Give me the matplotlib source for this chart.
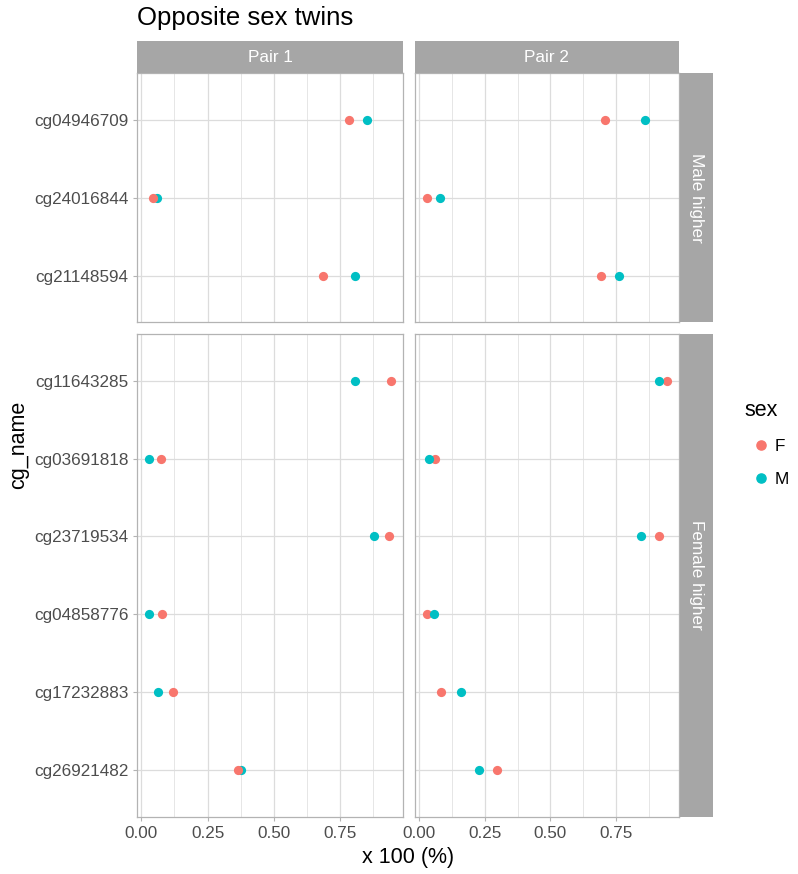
import matplotlib
matplotlib.use("Agg")
import matplotlib.pyplot as plt
from matplotlib.lines import Line2D

plt.rcParams["font.family"] = ["Liberation Sans", "DejaVu Sans"]

# Data
male_cgs = ["cg04946709", "cg24016844", "cg21148594"]
female_cgs = ["cg11643285", "cg03691818", "cg23719534",
              "cg04858776", "cg17232883", "cg26921482"]
row_labels = ["Male higher", "Female higher"]
col_labels = ["Pair 1", "Pair 2"]

pair1_F_male = [0.785, 0.044, 0.687]
pair1_M_male = [0.855, 0.059, 0.808]
pair2_F_male = [0.708, 0.033, 0.692]
pair2_M_male = [0.859, 0.082, 0.761]

pair1_F_female = [0.943, 0.074, 0.936, 0.079, 0.119, 0.365]
pair1_M_female = [0.808, 0.030, 0.881, 0.030, 0.062, 0.375]
pair2_F_female = [0.943, 0.061, 0.913, 0.033, 0.086, 0.297]
pair2_M_female = [0.913, 0.040, 0.843, 0.059, 0.162, 0.228]

x_ticks = [0.0, 0.25, 0.5, 0.75]
x_tick_labels = ["0.00", "0.25", "0.50", "0.75"]

COL_F = "#F8766D"
COL_M = "#00BFC4"
BORDER = "#B3B3B3"
GRID = "#DCDCDC"
STRIP = "#A6A6A6"
TICK_TXT = "#4D4D4D"

W, H = 798, 874
fig = plt.figure(figsize=(W / 100, H / 100), dpi=100)


def px_axes(x0, y0, x1, y1):
    # pixel box (top-left origin) -> figure axes
    return fig.add_axes([x0 / W, 1 - y1 / H, (x1 - x0) / W, (y1 - y0) / H])


col_x = [(137.3, 402.7), (414.5, 679.3)]
row_y = [(73, 322.3), (334, 816.7)]

rows = [
    (male_cgs, [(pair1_F_male, pair1_M_male), (pair2_F_male, pair2_M_male)]),
    (female_cgs, [(pair1_F_female, pair1_M_female), (pair2_F_female, pair2_M_female)]),
]

all_vals = []
for cgs, pairs in rows:
    for f, m in pairs:
        all_vals += f + m
lo, hi = min(all_vals), max(all_vals)
pad = 0.05 * (hi - lo)
xlim = (lo - pad, hi + pad)

for r, (cgs, pairs) in enumerate(rows):
    n = len(cgs)
    ypos = [n - 1 - i for i in range(n)]
    for c, (f_vals, m_vals) in enumerate(pairs):
        x0, x1 = col_x[c]
        y0, y1 = row_y[r]
        ax = px_axes(x0, y0, x1, y1)
        ax.set_xlim(*xlim)
        ax.set_ylim(-0.6, n - 1 + 0.6)
        for xm in [0.125, 0.375, 0.625, 0.875]:
            ax.axvline(xm, color=GRID, lw=0.5, zorder=0)
        for xt in x_ticks:
            ax.axvline(xt, color=GRID, lw=0.9, zorder=0)
        for yp in ypos:
            ax.axhline(yp, color=GRID, lw=0.9, zorder=0)
        if c == 0:
            ax.scatter(m_vals, ypos, s=44, color=COL_M, zorder=3, linewidths=0)
            ax.scatter(f_vals, ypos, s=44, color=COL_F, zorder=3, linewidths=0)
        else:
            ax.scatter(f_vals, ypos, s=44, color=COL_F, zorder=3, linewidths=0)
            ax.scatter(m_vals, ypos, s=44, color=COL_M, zorder=3, linewidths=0)
        for sp in ax.spines.values():
            sp.set_color(BORDER)
            sp.set_linewidth(0.9)
        ax.tick_params(colors=BORDER, labelcolor=TICK_TXT, labelsize=12.3,
                       length=3, width=0.8)
        ax.set_xticks(x_ticks)
        ax.set_yticks(ypos)
        if c == 0:
            ax.set_yticklabels(cgs)
        else:
            ax.tick_params(axis="y", left=False, labelleft=False)
        if r == 1:
            ax.set_xticklabels(x_tick_labels)
        else:
            ax.tick_params(axis="x", bottom=False, labelbottom=False)

# column strips
for c, (x0, x1) in enumerate(col_x):
    sax = px_axes(x0, 41, x1, 73)
    sax.set_facecolor(STRIP)
    sax.set_xticks([])
    sax.set_yticks([])
    for sp in sax.spines.values():
        sp.set_visible(False)
    sax.text(0.5, 0.5, col_labels[c], color="white", fontsize=12.3,
             ha="center", va="center", transform=sax.transAxes)

# row strips
for r, (y0, y1) in enumerate(row_y):
    sax = px_axes(680, y0, 713, y1)
    sax.set_facecolor(STRIP)
    sax.set_xticks([])
    sax.set_yticks([])
    for sp in sax.spines.values():
        sp.set_visible(False)
    sax.text(0.5, 0.5, row_labels[r], color="white", fontsize=12.3,
             ha="center", va="center", rotation=-90, transform=sax.transAxes)

fig.text(137 / W, 1 - 18 / H, "Opposite sex twins", fontsize=18.5,
         ha="left", va="center", color="black")
fig.text(408 / W, 1 - 858 / H, "x 100 (%)", fontsize=15.5,
         ha="center", va="center", color="black")
fig.text(19 / W, 1 - 445 / H, "cg_name", fontsize=15.5, rotation=90,
         ha="center", va="center", color="black")

handles = [
    Line2D([], [], marker="o", linestyle="", color=COL_F, markersize=6.6),
    Line2D([], [], marker="o", linestyle="", color=COL_M, markersize=6.6),
]
leg = fig.legend(handles, ["F", "M"], title="sex", loc="upper left",
                 bbox_to_anchor=(729 / W, 1 - 385 / H), frameon=False,
                 fontsize=12.3, title_fontsize=15.5, labelspacing=1.05,
                 handletextpad=-0.25, handlelength=2.0)
leg._legend_box.align = "left"

fig.savefig("out.png", dpi=100)
